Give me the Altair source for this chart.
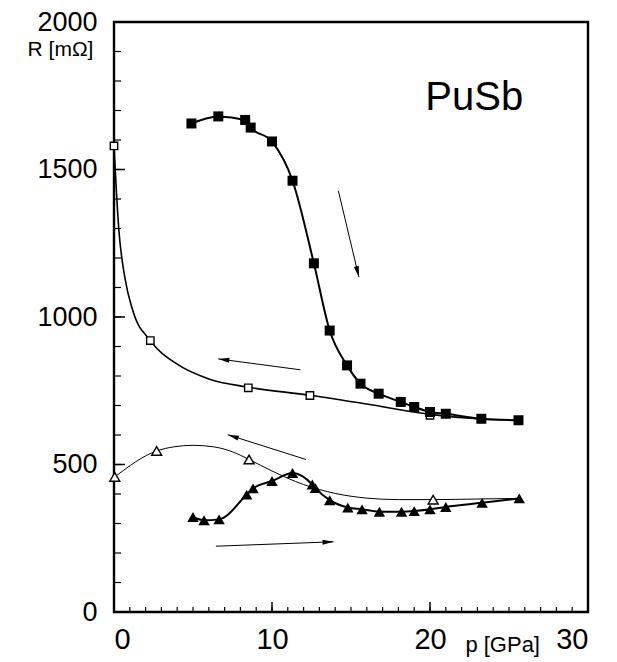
import math
import altair as alt
import pandas as pd

# ---------------- data ----------------
# filled squares (increasing pressure)
fs_p = [4.9, 6.6, 8.3, 8.65, 10.0, 11.3, 12.65, 13.65, 14.75, 15.6, 16.75, 18.15, 19.0, 20.0, 21.0, 23.25, 25.6]
fs_R = [1656, 1680, 1668, 1642, 1595, 1462, 1182, 954, 836, 774, 740, 712, 695, 678, 672, 655, 650]
# open squares (decreasing pressure)
os_p = [0.0, 2.3, 8.5, 12.4, 20.0]
os_R = [1580, 920, 760, 734, 667]
# fitted curve through the open squares
osc_p = [0.0, 0.3, 0.7, 1.2, 2.3, 4.0, 6.0, 8.5, 12.4, 16.0, 20.0, 23.0, 25.6]
osc_R = [1580, 1300, 1130, 1020, 920, 840, 790, 762, 735, 705, 670, 655, 650]
# filled triangles
ft_p = [5.0, 5.7, 6.65, 8.4, 8.8, 10.0, 11.3, 12.55, 12.75, 13.65, 14.8, 15.7, 16.8, 18.2, 19.0, 20.0, 21.0, 23.3, 25.65]
ft_R = [322, 311, 314, 398, 419, 444, 471, 432, 420, 379, 354, 348, 340, 340, 342, 348, 356, 370, 385]
# open triangles
ot_p = [0.05, 2.7, 8.55, 20.2]
ot_R = [458, 546, 517, 381]
# thin fitted curve through the open triangles
otc_p = [0.05, 2.7, 3.8, 5.0, 6.3, 7.5, 8.55, 10.0, 12.0, 14.0, 16.0, 18.0, 20.2, 23.0, 25.6]
otc_R = [458, 546, 560, 565, 560, 543, 517, 478, 432, 402, 386, 381, 381, 383, 385]
# arrows (start -> tip)
ar_p1 = [14.2, 11.8, 12.15, 6.45]
ar_R1 = [1428, 821, 517, 223]
ar_p2 = [15.5, 6.6, 7.2, 13.9]
ar_R2 = [1135, 858, 601, 238]

x_major = [0, 10, 20, 30]
y_major = [0, 500, 1000, 1500, 2000]
x_minor = list(range(0, 31))
y_minor = list(range(0, 2001, 100))

# frame = full domain
frame_p = [0, 30]
frame_R = [0, 2000]

# ---------------- layout ----------------
W, H = 474, 590
XMAX, YMAX = 30, 2000
FONT = "Liberation Sans"

xs = alt.Scale(domain=[0, XMAX], nice=False, zero=False)
ys = alt.Scale(domain=[0, YMAX], nice=False, zero=False)

xax = alt.Axis(values=x_major, ticks=False, tickSize=0, domain=False, grid=False,
               labelFontSize=29, labelFont=FONT, labelColor="black", labelPadding=13,
               title=None, format="d")
yax = alt.Axis(values=y_major, ticks=False, tickSize=0, domain=False, grid=False,
               labelFontSize=27, labelFont=FONT, labelColor="black", labelPadding=17,
               title=None, format="d")

def X(f="p"):
    return alt.X(f"{f}:Q", scale=xs, axis=xax)

def Y(f="R"):
    return alt.Y(f"{f}:Q", scale=ys, axis=yax)

fs = pd.DataFrame({"p": fs_p, "R": fs_R})
osq = pd.DataFrame({"p": os_p, "R": os_R})
osc = pd.DataFrame({"p": osc_p, "R": osc_R})
ft = pd.DataFrame({"p": ft_p, "R": ft_R})
ot = pd.DataFrame({"p": ot_p, "R": ot_R})
otc = pd.DataFrame({"p": otc_p, "R": otc_R})

ang = []
for a, b, c, d in zip(ar_p1, ar_R1, ar_p2, ar_R2):
    dx = (c - a) * W / XMAX
    dy = -(d - b) * H / YMAX
    ang.append(math.degrees(math.atan2(dy, dx)) % 360)
arr = pd.DataFrame({"p": ar_p1, "R": ar_R1, "p2": ar_p2, "R2": ar_R2, "ang": ang})

fr = pd.DataFrame({"p": [frame_p[0]], "p2": [frame_p[1]], "R": [frame_R[0]], "R2": [frame_R[1]]})
frame = alt.Chart(fr).mark_rect(fillOpacity=0, fill="white", stroke="black", strokeWidth=2.4,
                                strokeOpacity=1).encode(
    x=X(), x2="p2:Q", y=Y(), y2="R2:Q")

# inward ticks
xt_min = alt.Chart(pd.DataFrame({"p": x_minor})).mark_rule(color="black", strokeWidth=1.2).encode(
    x=X(), y=alt.value(H), y2=alt.value(H - 5))
xt_maj = alt.Chart(pd.DataFrame({"p": x_major})).mark_rule(color="black", strokeWidth=1.5).encode(
    x=X(), y=alt.value(H), y2=alt.value(H - 10))
yt_min = alt.Chart(pd.DataFrame({"R": y_minor})).mark_rule(color="black", strokeWidth=1.2).encode(
    y=Y(), x=alt.value(0), x2=alt.value(7))
yt_maj = alt.Chart(pd.DataFrame({"R": y_major})).mark_rule(color="black", strokeWidth=1.5).encode(
    y=Y(), x=alt.value(0), x2=alt.value(11))

fs_line = alt.Chart(fs).mark_line(color="black", strokeWidth=2, interpolate="monotone").encode(x=X(), y=Y())
fs_pts = alt.Chart(fs).mark_point(shape="square", filled=True, color="black", size=100, opacity=1).encode(x=X(), y=Y())

os_line = alt.Chart(osc).mark_line(color="black", strokeWidth=1.6, interpolate="monotone").encode(x=X(), y=Y())
os_pts = alt.Chart(osq).mark_point(shape="square", filled=True, fill="white", stroke="black",
                                   strokeWidth=1.4, size=55, opacity=1).encode(x=X(), y=Y())

ft_line = alt.Chart(ft).mark_line(color="black", strokeWidth=2, interpolate="monotone").encode(x=X(), y=Y())
ft_pts = alt.Chart(ft).mark_point(shape="triangle-up", filled=True, color="black", size=130, opacity=1).encode(x=X(), y=Y())

ot_line = alt.Chart(otc).mark_line(color="black", strokeWidth=1, interpolate="monotone").encode(x=X(), y=Y())
ot_pts = alt.Chart(ot).mark_point(shape="triangle-up", filled=True, fill="white", stroke="black",
                                  strokeWidth=1.4, size=100, opacity=1).encode(x=X(), y=Y())

ar_shaft = alt.Chart(arr).mark_rule(color="black", strokeWidth=1).encode(
    x=X(), y=Y(), x2="p2:Q", y2="R2:Q")
ar_head = alt.Chart(arr).mark_point(shape="M0,0L-2.4,-0.55L-2.4,0.55Z", filled=True, color="black",
                                    size=85, opacity=1).encode(
    x=alt.X("p2:Q", scale=xs, axis=xax), y=alt.Y("R2:Q", scale=ys, axis=yax), angle=alt.Angle("ang:Q", scale=None))

title_df = pd.DataFrame({"p": [22.8], "R": [1743], "t": ["PuSb"]})
title = alt.Chart(title_df).mark_text(font=FONT, fontSize=40, color="black", align="center", baseline="middle").encode(
    x=X(), y=Y(), text="t:N")

rlab = alt.Chart(pd.DataFrame({"p": [-1.3], "R": [1905], "t": ["R [mΩ]"]})).mark_text(
    font=FONT, fontSize=21, color="black", align="right", baseline="middle").encode(x=X(), y=Y(), text="t:N")
plab = alt.Chart(pd.DataFrame({"p": [24.6], "R": [-112], "t": ["p [GPa]"]})).mark_text(
    font=FONT, fontSize=22, color="black", align="center", baseline="middle").encode(x=X(), y=Y(), text="t:N")

chart = alt.layer(
    frame, xt_min, xt_maj, yt_min, yt_maj,
    os_line, ot_line, fs_line, ft_line,
    ar_shaft, ar_head,
    os_pts, ot_pts, fs_pts, ft_pts,
    title, rlab, plab,
).properties(
    width=W, height=H,
    autosize=alt.AutoSizeParams(type="none"),
    padding={"left": 106, "top": 14, "right": 12, "bottom": 50},
).configure(
    background="white",
    view=alt.ViewConfig(stroke="black", strokeWidth=1.5),
)

chart.save("out.html", embed_options={"renderer": "svg", "actions": False})
